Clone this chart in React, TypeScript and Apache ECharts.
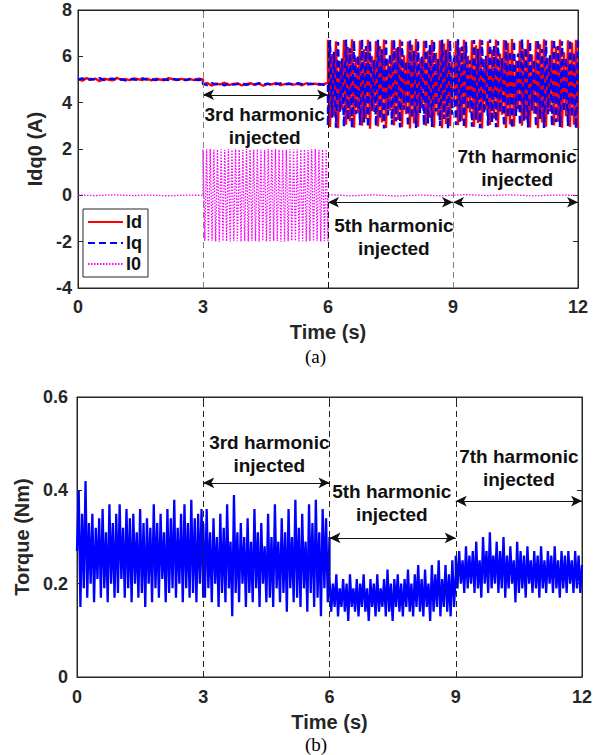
import React, { useEffect, useRef } from "react";
import * as echarts from "echarts";

// ---------- DATA ----------
const X_TICKS = [0, 3, 6, 9, 12];
const SEG_BOUNDS = [0, 3, 6, 9, 12];

// Top (a): Id, Iq, I0 (A)
const ID_0_3 = [5.02,4.95,5.06,4.98,5.04,4.93,5.03,5.00,4.96,5.07,4.99,5.02,4.97,5.05,5.01,4.98,5.04,4.96,5.03,5.00,4.97,5.06,5.01,4.98,5.03,4.99,5.02,4.97,5.04,5.00];
const IQ_0_3 = [5.00,5.05,4.96,5.03,4.99,5.06,4.97,5.02,5.04,4.98,5.01,4.96,5.03,5.00,4.98,5.05,4.99,5.02,4.97,5.04,5.00,4.98,5.03,4.99,5.01,4.97,5.02,5.00,4.98,5.01];
const ID_3_6 = [4.78,4.85,4.74,4.82,4.79,4.86,4.76,4.81,4.83,4.75,4.80,4.84,4.77,4.82,4.73,4.81,4.79,4.85,4.76,4.80,4.83,4.78,4.81,4.75,4.84,4.79,4.82,4.77,4.80,4.86];
const IQ_3_6 = [4.81,4.76,4.84,4.79,4.82,4.75,4.83,4.78,4.80,4.85,4.77,4.81,4.79,4.84,4.78,4.82,4.76,4.80,4.83,4.79,4.81,4.77,4.84,4.80,4.78,4.82,4.79,4.81,4.77,4.80];
const ID_6_12 = [6.72,2.95,6.10,3.40,6.65,2.90,5.80,3.70,6.70,3.05,6.40,3.20,6.74,2.92,5.95,3.55,6.68,3.00,6.30,3.30,6.71,2.88,6.00,3.60,6.66,2.97,6.45,3.15,6.73,2.91,5.85,3.65,6.69,3.02,6.35,3.25,6.72,2.94,6.05,3.50,6.64,2.89,6.50,3.10,6.75,2.96,5.90,3.75,6.67,3.01,6.25,3.35,6.70,2.93,6.15,3.45,6.68,2.90,6.55,3.08,6.74,2.98,5.75,3.80,6.66,3.03,6.38,3.22,6.71,2.92,6.02,3.58,6.69,2.95,6.48,3.12,6.73,2.89,5.88,3.68,6.65,3.04,6.28,3.32,6.72,2.94,6.12,3.48,6.70,2.91,6.58,3.06,6.75,2.97,5.82,3.72,6.67,3.00,6.33,3.28,6.71,2.93,6.08,3.52,6.66,2.90,6.52,3.14,6.74,2.96,5.92,3.62,6.68,3.02,6.42,3.18,6.73,2.92,6.18,3.42,6.69,2.95,6.60,3.05,6.72,2.91];
const IQ_6_12 = [3.00,6.70,3.35,6.20,2.92,6.62,3.60,5.90,2.96,6.72,3.25,6.35,2.90,6.68,3.50,6.05,3.03,6.74,3.15,6.45,2.94,6.66,3.65,5.85,2.98,6.71,3.28,6.30,2.89,6.69,3.45,6.10,3.05,6.73,3.20,6.40,2.93,6.64,3.70,5.80,2.97,6.70,3.32,6.25,2.91,6.67,3.55,6.00,3.02,6.75,3.10,6.50,2.95,6.65,3.62,5.88,2.99,6.72,3.30,6.28,2.88,6.68,3.48,6.08,3.04,6.74,3.18,6.42,2.92,6.63,3.68,5.83,2.96,6.70,3.26,6.33,2.90,6.69,3.52,6.02,3.01,6.73,3.13,6.47,2.94,6.66,3.58,5.92,2.98,6.71,3.35,6.22,2.89,6.67,3.42,6.12,3.03,6.75,3.22,6.38,2.93,6.64,3.66,5.86,2.97,6.72,3.29,6.31,2.91,6.68,3.50,6.04,3.00,6.74,3.16,6.44,2.95,6.65,3.60,5.95,2.99,6.71,3.38,6.18,2.90,6.70];
const I0_0_3 = [0.01,-0.01,0.02,-0.01,0.01,-0.02,0.01,0.00];
const I0_3_6 = [1.98,-1.97,1.99,-1.98,2.00,-1.96,1.97,-1.99,1.98,-2.00,1.99,-1.97,1.96,-1.98,2.00,-1.99,1.97,-1.96,1.99,-1.98,1.98,-2.00,1.96,-1.97,2.00,-1.99,1.98,-1.96,1.97,-1.98,1.99,-2.00,1.98,-1.97,1.96,-1.99,2.00,-1.98,1.97,-1.96,1.99,-1.97,1.98,-2.00,1.96,-1.99,1.97,-1.98,2.00,-1.96,1.98,-1.97,1.99,-1.99,1.97,-1.98,1.98,-2.00,1.96,-1.97,1.99,-1.98,2.00,-1.96,1.97,-1.99,1.98,-1.97,1.99,-1.98];
const I0_6_12 = [0.03,-0.02,0.02,-0.03,0.01,-0.02,0.03,-0.01,0.02,-0.02,0.01,0.00];

// Bottom (b): Torque (Nm)
const TQ_0_3 = [0.27,0.40,0.15,0.35,0.19,0.42,0.17,0.33,0.20,0.35,0.16,0.32,0.21,0.34,0.17,0.36,0.19,0.31,0.16,0.37,0.20,0.33,0.17,0.35,0.18,0.37,0.21,0.32,0.17,0.36,0.19,0.34,0.16,0.35,0.20,0.31,0.17,0.36,0.18,0.33,0.15,0.34,0.20,0.32,0.16,0.37,0.19,0.33,0.17,0.35,0.21,0.31,0.16,0.36,0.18,0.34,0.19,0.38,0.17,0.32,0.20,0.35,0.16,0.37,0.19,0.33,0.17,0.38,0.18,0.34,0.16,0.35,0.20,0.36,0.17];
const TQ_3_6 = [0.33,0.17,0.36,0.19,0.31,0.16,0.34,0.20,0.30,0.15,0.35,0.18,0.32,0.16,0.37,0.19,0.29,0.13,0.39,0.18,0.31,0.16,0.33,0.20,0.30,0.15,0.34,0.18,0.29,0.16,0.36,0.19,0.31,0.15,0.33,0.20,0.28,0.16,0.35,0.17,0.30,0.15,0.37,0.19,0.29,0.16,0.34,0.18,0.31,0.14,0.36,0.19,0.30,0.16,0.38,0.17,0.32,0.15,0.35,0.19,0.29,0.14,0.37,0.18,0.33,0.15,0.38,0.17,0.31,0.13,0.36,0.19,0.34,0.16,0.30];
const TQ_6_9 = [0.21,0.14,0.20,0.15,0.22,0.13,0.19,0.15,0.21,0.14,0.20,0.12,0.22,0.15,0.19,0.14,0.21,0.13,0.20,0.15,0.22,0.14,0.19,0.12,0.21,0.15,0.20,0.13,0.22,0.14,0.19,0.15,0.21,0.13,0.23,0.14,0.20,0.12,0.21,0.15,0.22,0.14,0.20,0.13,0.21,0.15,0.23,0.14,0.20,0.13,0.22,0.15,0.24,0.14,0.21,0.13,0.23,0.15,0.20,0.12,0.24,0.14,0.22,0.15,0.25,0.13,0.21,0.15,0.24,0.14,0.22,0.13,0.25,0.15,0.22];
const TQ_9_12 = [0.26,0.19,0.27,0.20,0.25,0.18,0.28,0.19,0.26,0.20,0.27,0.18,0.29,0.19,0.25,0.17,0.30,0.20,0.27,0.18,0.31,0.19,0.26,0.20,0.29,0.18,0.27,0.19,0.30,0.17,0.26,0.19,0.28,0.20,0.25,0.16,0.29,0.18,0.27,0.19,0.26,0.17,0.28,0.20,0.25,0.18,0.27,0.19,0.26,0.17,0.28,0.19,0.25,0.18,0.27,0.20,0.26,0.18,0.28,0.19,0.25,0.17,0.27,0.19,0.26,0.18,0.27,0.20,0.25,0.18,0.27,0.19,0.26,0.18,0.24];

// Annotations (data coordinates)
const TOP_ARROWS = [
  { from: 3, to: 6, y: 4.34 },
  { from: 6, to: 9, y: -0.3 },
  { from: 9, to: 12, y: -0.3 },
];
const TOP_TEXTS = [
  { x: 4.48, y: 3.0, text: "3rd harmonic\ninjected" },
  { x: 7.58, y: -1.78, text: "5th harmonic\ninjected" },
  { x: 10.54, y: 1.18, text: "7th harmonic\ninjected" },
];
const BOT_ARROWS = [
  { from: 3, to: 6, y: 0.416 },
  { from: 6, to: 9, y: 0.298 },
  { from: 9, to: 12, y: 0.377 },
];
const BOT_TEXTS = [
  { x: 4.57, y: 0.478, text: "3rd harmonic\ninjected" },
  { x: 7.48, y: 0.372, text: "5th harmonic\ninjected" },
  { x: 10.5, y: 0.448, text: "7th harmonic\ninjected" },
];

// ---------- helpers ----------
function seg(start: number, end: number, vals: number[]) {
  const n = vals.length;
  return vals.map((v, i) => [start + ((end - start) * i) / (n - 1), v]);
}
function join(parts: number[][][]) {
  return ([] as number[][]).concat(...parts);
}

const FONT = "Liberation Sans, Arial, Helvetica, sans-serif";
const DARK = "#262626";

export default function App() {
  const ref = useRef<HTMLDivElement>(null);
  useEffect(() => {
    if (!ref.current) return;
    const chart = echarts.init(ref.current, undefined, { renderer: "svg" });
    const B = SEG_BOUNDS;
    const idData = join([seg(B[0], B[1], ID_0_3), seg(B[1], B[2], ID_3_6), seg(B[2], B[4], ID_6_12)]);
    const iqData = join([seg(B[0], B[1], IQ_0_3), seg(B[1], B[2], IQ_3_6), seg(B[2], B[4], IQ_6_12)]);
    const i0Data = join([seg(B[0], B[1], I0_0_3), seg(B[1], B[2], I0_3_6), seg(B[2], B[4], I0_6_12)]);
    const tqData = join([seg(B[0], B[1], TQ_0_3), seg(B[1], B[2], TQ_3_6), seg(B[2], B[3], TQ_6_9), seg(B[3], B[4], TQ_9_12)]);

    const tickLabel = { fontSize: 18, fontWeight: "bold", color: DARK, fontFamily: FONT };
    const nameStyle = { fontSize: 20, fontWeight: "bold", color: DARK, fontFamily: FONT };

    const xAx = (grid: number, bottom: boolean, named: boolean, margin: number, gap: number) => ({
      type: "value",
      gridIndex: grid,
      position: bottom ? "bottom" : "top",
      min: 0,
      max: 12,
      interval: 3,
      axisLine: { show: true, onZero: false, lineStyle: { color: DARK, width: 1 } },
      axisTick: { show: true, inside: true, length: 5, lineStyle: { color: DARK } },
      axisLabel: { show: bottom, margin, ...tickLabel },
      splitLine: { show: false },
      name: named ? "Time (s)" : "",
      nameLocation: "middle",
      nameGap: gap,
      nameTextStyle: nameStyle,
    });
    const yAx = (grid: number, left: boolean, min: number, max: number, interval: number, name: string, gap: number, margin: number) => ({
      type: "value",
      gridIndex: grid,
      position: left ? "left" : "right",
      min,
      max,
      interval,
      axisLine: { show: true, onZero: false, lineStyle: { color: DARK, width: 1 } },
      axisTick: { show: true, inside: true, length: 5, lineStyle: { color: DARK } },
      axisLabel: { show: left, margin, ...tickLabel },
      splitLine: { show: false },
      name: left ? name : "",
      nameLocation: "middle",
      nameGap: gap,
      nameTextStyle: nameStyle,
    });

    const vLines = (colors: string[]) =>
      [3, 6, 9].map((x, i) => ({
        xAxis: x,
        symbol: "none",
        lineStyle: { color: colors[i], type: [6, 4], width: 1 },
      }));
    const arrows = (list: { from: number; to: number; y: number }[]) =>
      list.map((a) => [
        { coord: [a.from, a.y], symbol: "arrow", symbolSize: [8, 11] },
        { coord: [a.to, a.y], symbol: "arrow", symbolSize: [8, 11] },
      ]);
    const texts = (list: { x: number; y: number; text: string }[]) =>
      list.map((t) => ({
        coord: [t.x, t.y],
        value: 0,
        label: { formatter: t.text },
      }));
    const markPointCfg = (list: { x: number; y: number; text: string }[]) => ({
      symbol: "circle",
      symbolSize: 1,
      itemStyle: { color: "rgba(0,0,0,0)" },
      silent: true,
      label: {
        show: true,
        position: "inside",
        fontSize: 19,
        fontWeight: "bold",
        color: "#111",
        fontFamily: FONT,
        lineHeight: 23,
        align: "center",
        verticalAlign: "middle",
      },
      data: texts(list),
    });

    const option: any = {
      animation: false,
      backgroundColor: "#fff",
      grid: [
        { left: 78, top: 10, width: 500, height: 278, show: true, borderColor: DARK, borderWidth: 1, backgroundColor: "#fff" },
        { left: 77, top: 397, width: 505, height: 280, show: true, borderColor: DARK, borderWidth: 1, backgroundColor: "#fff" },
      ],
      xAxis: [xAx(0, true, true, 10, 34), xAx(0, false, false, 10, 34), xAx(1, true, true, 11, 35), xAx(1, false, false, 11, 35)],
      yAxis: [
        yAx(0, true, -4, 8, 2, "Idq0 (A)", 28, 6),
        yAx(0, false, -4, 8, 2, "", 0, 6),
        yAx(1, true, 0, 0.6, 0.2, "Torque (Nm)", 40, 9),
        yAx(1, false, 0, 0.6, 0.2, "", 0, 9),
      ],
      legend: {
        data: ["Id", "Iq", "I0"],
        orient: "vertical",
        left: 83,
        top: 209,
        itemWidth: 35,
        itemHeight: 14,
        itemGap: 3,
        padding: [4, 6, 4, 4],
        borderColor: DARK,
        borderWidth: 1,
        backgroundColor: "#fff",
        itemStyle: { color: "rgba(0,0,0,0)", borderColor: "rgba(0,0,0,0)", borderWidth: 0, opacity: 0 },
        textStyle: { fontSize: 18, fontWeight: "bold", color: "#111", fontFamily: FONT, padding: [0, 0, 0, -2] },
        selectedMode: false,
      },
      series: [
        {
          name: "Id",
          type: "line",
          xAxisIndex: 0,
          yAxisIndex: 0,
          data: idData,
          symbol: "none",
          showSymbol: false,
          lineStyle: { color: "#ff0000", width: 2.4 },
          itemStyle: { color: "#ff0000" },
        },
        {
          name: "Iq",
          type: "line",
          xAxisIndex: 0,
          yAxisIndex: 0,
          data: iqData,
          symbol: "none",
          showSymbol: false,
          lineStyle: { color: "#0000ff", width: 2.4, type: [7, 4] },
          itemStyle: { color: "#0000ff" },
          markLine: {
            silent: true,
            symbol: ["none", "none"],
            label: { show: false },
            lineStyle: { color: "#111", type: "solid", width: 1 },
            data: arrows(TOP_ARROWS),
          },
          markPoint: markPointCfg(TOP_TEXTS),
        },
        {
          name: "I0",
          type: "line",
          xAxisIndex: 0,
          yAxisIndex: 0,
          data: i0Data,
          symbol: "none",
          showSymbol: false,
          lineStyle: { color: "#ff00ff", width: 1.3, type: [1.5, 1.5] },
          itemStyle: { color: "#ff00ff" },
          markLine: {
            silent: true,
            symbol: ["none", "none"],
            label: { show: false },
            data: vLines(["#808080", "#111", "#808080"]),
          },
        },
        {
          name: "Torque",
          type: "line",
          xAxisIndex: 2,
          yAxisIndex: 2,
          data: tqData,
          symbol: "none",
          showSymbol: false,
          lineStyle: { color: "#0000ff", width: 2.3 },
          itemStyle: { color: "#0000ff" },
          markLine: {
            silent: true,
            symbol: ["none", "none"],
            label: { show: false },
            lineStyle: { color: "#111", type: "solid", width: 1 },
            data: [...vLines(["#222", "#222", "#222"]), ...arrows(BOT_ARROWS)],
          },
          markPoint: markPointCfg(BOT_TEXTS),
        },
      ],
      graphic: [
        { type: "text", left: 305, top: 347, style: { text: "(a)", fontSize: 19, fontFamily: "Liberation Serif, Times New Roman, serif", fill: "#000" } },
        { type: "text", left: 305, top: 735, style: { text: "(b)", fontSize: 19, fontFamily: "Liberation Serif, Times New Roman, serif", fill: "#000" } },
      ],
    };
    chart.setOption(option);
    return () => chart.dispose();
  }, []);
  return <div ref={ref} style={{ position: "absolute", left: 0, top: 0, width: 605, height: 755 }} />;
}
